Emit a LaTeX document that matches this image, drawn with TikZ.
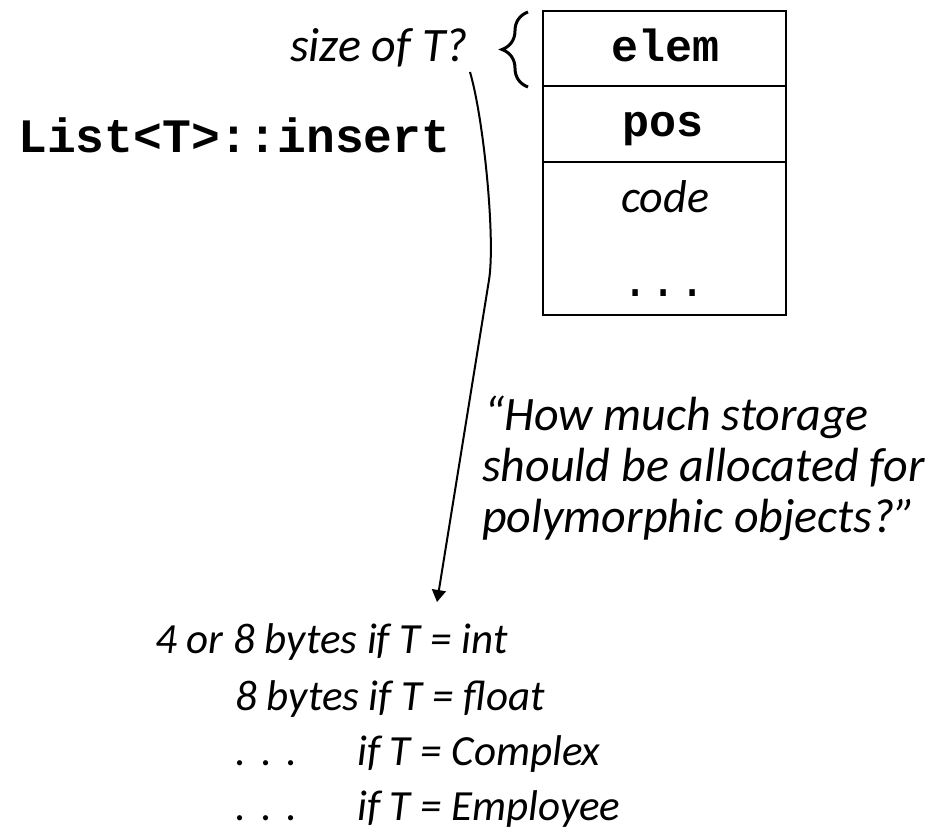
\documentclass[tikz,border=0pt]{standalone}
\usepackage{fontspec}
\setmainfont{Carlito}
\newfontfamily\codefont{Liberation Mono}
\usetikzlibrary{arrows.meta,decorations.pathreplacing}
\newcommand\spdots{.\hspace{15pt}.\hspace{15pt}.}
\begin{document}
\begin{tikzpicture}[x=1pt,y=-1pt,
  cell/.style={draw, line width=2.5pt, minimum width=243pt, inner sep=0pt, outer sep=0pt},
  monotxt/.style={inner sep=0pt, font={\codefont\bfseries\fontsize{45}{45}\selectfont}},
  bigmono/.style={inner sep=0pt, font={\codefont\bfseries\fontsize{48}{48}\selectfont}},
  quotetxt/.style={inner sep=0pt, anchor=base west, font={\itshape\fontsize{48}{51}\selectfont}},
  bottxt/.style={inner sep=0pt, anchor=base west, font={\itshape\fontsize{43}{50}\selectfont}},
  bracestyle/.style={line width=3pt, decorate, decoration={brace, amplitude=26pt}},
  arrowstyle/.style={line width=2pt, -{Triangle[length=12pt,width=14pt]}},
]
\useasboundingbox (0,0) rectangle (933,834);
% memory box
\node[cell, minimum height=75pt] (r1) at (664.5,48.5) {};
\node[cell, minimum height=76pt] (r2) at (664.5,124) {};
\node[cell, minimum height=153pt] (r3) at (664.5,238.5) {};
\node[monotxt, anchor=base] (elem) at (665,62) {elem};
\node[monotxt, anchor=base] (pos) at (663,137) {pos};
\node[inner sep=0pt, anchor=base, font={\itshape\fontsize{46}{46}\selectfont}] (code) at (665,213) {code};
\node[inner sep=0pt, anchor=base, font={\codefont\fontsize{47}{47}\selectfont}] (bdots) at (664,296) {...};
% brace and label
\draw[bracestyle] (528,87) -- (528,12);
\node[inner sep=0pt, anchor=base east, font={\itshape\fontsize{48}{48}\selectfont}] (sizeq) at (468,62) {size of T?};
% function name
\node[bigmono, anchor=base west] (list) at (18,153) {List<T>::insert};
% question
\node[quotetxt] (q1) at (484,430) {“How much storage};
\node[quotetxt] (q2) at (482,481) {should be allocated for};
\node[quotetxt] (q3) at (482,532) {polymorphic objects?”};
% arrow
\coordinate (astart) at (470,72);
\coordinate (abend) at (489,280);
\coordinate (aend) at (437,602);
\draw[arrowstyle] (astart) .. controls (484,120) and (495.5,240) .. (abend) -- (aend);
% sizes
\node[bottxt] (l1) at (155,653) {4 or 8 bytes if T = int};
\node[bottxt] (l2) at (235,710) {8 bytes if T = float};
\node[bottxt] (l3a) at (235,765) {\spdots};
\node[bottxt] (l3b) at (357,765) {if T = Complex};
\node[bottxt] (l4a) at (235,820) {\spdots};
\node[bottxt] (l4b) at (357,820) {if T = Employee};
\end{tikzpicture}
\end{document}
